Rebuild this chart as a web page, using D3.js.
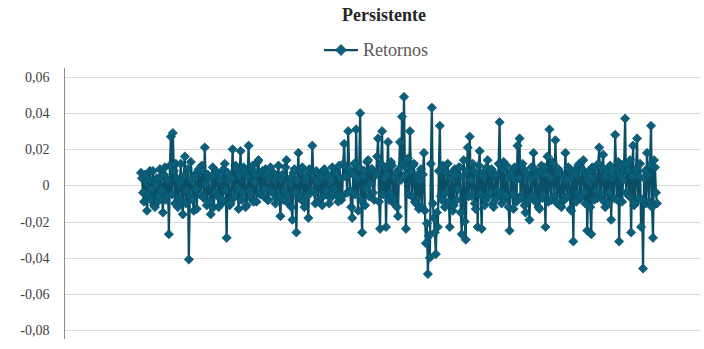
<!DOCTYPE html>
<html>
<head>
<meta charset="utf-8">
<script src="https://cdn.jsdelivr.net/npm/d3@7"></script>
<style>
  body { margin: 0; background: #fff; }
  text { font-family: "Liberation Serif", "DejaVu Serif", serif; }
</style>
</head>
<body>
<div id="chart"></div>
<script>
'use strict'

// chart text
const title = 'Persistente'
const seriesName = 'Retornos'

// y axis ticks
const yTicks = [0.06, 0.04, 0.02, 0, -0.02, -0.04, -0.06, -0.08]

// daily returns
const retornos = [
  0.007, 0.004, -0.004, -0.009, 0.006, 0.002, -0.014, -0.005, 0.003, 0.008, -0.008, -0.002, 0.008, -0.011, -0.012, 0.001, 0.004, -0.009, -0.006, 0.009,
  0.005, -0.003, -0.015, 0.006, 0.010, -0.008, -0.006, 0.003, -0.027, 0.011, 0.027, -0.005, 0.029, 0.008, -0.010, 0.012, 0.004, -0.012, -0.007, 0.002,
  0.012, -0.009, -0.016, 0.005, 0.016, -0.010, -0.003, 0.009, -0.041, -0.006, 0.013, 0.003, -0.008, -0.014, 0.006, -0.002, -0.013, 0.007, 0.009, -0.005,
  -0.005, 0.011, 0.008, -0.007, 0.021, 0.001, -0.011, 0.006, 0.004, -0.009, -0.016, 0.005, 0.010, -0.012, -0.004, 0.008, 0.007, -0.006, -0.012, 0.003,
  0.006, -0.010, -0.008, 0.009, 0.012, -0.003, -0.029, 0.007, 0.003, -0.011, -0.010, 0.004, 0.020, -0.007, -0.006, 0.011, 0.009, -0.002, -0.013, 0.006,
  0.019, -0.008, -0.004, 0.010, 0.008, -0.012, -0.011, 0.005, 0.022, -0.003, -0.007, 0.009, 0.011, -0.009, 0.002, 0.006, -0.009, 0.013, 0.014, -0.004,
  -0.005, 0.007, 0.008, -0.006, -0.002, 0.009, 0.006, -0.008, -0.008, 0.004, 0.010, -0.003, -0.004, 0.007, 0.003, -0.010, -0.007, 0.005, 0.011, -0.006,
  -0.017, 0.004, 0.006, -0.008, -0.003, 0.010, 0.014, -0.005, -0.010, 0.002, 0.004, -0.012, -0.019, 0.007, 0.009, -0.004, -0.026, 0.003, 0.018, -0.007,
  -0.006, 0.008, 0.010, -0.009, -0.012, 0.004, 0.005, -0.006, -0.018, 0.009, 0.007, -0.003, 0.022, 0.006, -0.004, -0.010, 0.008, 0.002, -0.009, 0.005,
  0.005, -0.007, -0.011, 0.008, 0.009, -0.005, -0.003, 0.004, 0.006, -0.010, -0.007, 0.003, 0.010, -0.004, -0.002, 0.008, 0.007, -0.006, -0.009, 0.011,
  0.004, -0.008, -0.006, 0.012, 0.023, 0.005, 0.010, -0.004, 0.030, 0.009, -0.003, -0.012, -0.018, 0.006, 0.012, -0.005, 0.031, 0.004, -0.014, 0.010,
  0.040, -0.008, -0.026, 0.005, 0.008, -0.011, -0.002, 0.013, 0.014, -0.006, 0.001, 0.009, 0.009, -0.004, -0.008, 0.007, 0.006, 0.016, 0.026, -0.009,
  -0.024, 0.012, 0.030, -0.005, 0.004, 0.010, -0.023, 0.006, 0.024, -0.008, -0.004, 0.013, 0.011, -0.007, -0.010, 0.005, 0.007, -0.012, -0.017, 0.009,
  0.024, 0.003, 0.038, 0.012, 0.049, 0.006, -0.024, 0.010, 0.015, -0.005, 0.030, 0.008, -0.006, 0.011, 0.012, -0.009, -0.010, 0.004, 0.006, -0.013,
  0.003, 0.009, -0.012, 0.006, 0.018, -0.014, -0.032, -0.021, -0.049, -0.028, -0.040, 0.012, 0.043, -0.010, -0.018, -0.026, -0.038, -0.015, -0.023, 0.008,
  0.033, -0.006, -0.008, 0.011, 0.010, -0.012, -0.004, 0.007, 0.012, -0.009, -0.023, 0.004, 0.007, -0.014, -0.011, 0.009, 0.006, -0.008, -0.002, 0.010,
  0.010, -0.015, -0.027, 0.005, 0.014, -0.020, -0.030, 0.008, 0.021, -0.006, 0.027, 0.003, -0.006, 0.012, 0.008, -0.010, -0.013, 0.006, -0.023, 0.011,
  0.019, -0.005, -0.024, 0.007, 0.005, -0.011, -0.008, 0.010, 0.014, -0.006, -0.004, 0.008, 0.009, -0.010, -0.012, 0.005, 0.006, -0.007, -0.003, 0.012,
  0.035, -0.004, -0.010, 0.009, 0.013, -0.008, -0.006, 0.011, 0.004, -0.012, -0.025, 0.006, 0.008, -0.005, -0.013, 0.010, 0.003, -0.009, 0.022, 0.004,
  0.026, -0.006, -0.007, 0.012, 0.009, -0.011, -0.015, 0.007, 0.005, -0.008, -0.019, 0.004, 0.010, -0.006, 0.018, 0.009, -0.009, 0.005, 0.006, -0.012,
  -0.013, 0.008, 0.011, -0.007, -0.005, 0.010, -0.023, 0.006, 0.016, -0.009, 0.031, 0.004, -0.008, 0.013, 0.012, -0.006, 0.025, 0.007, -0.010, 0.009,
  0.007, -0.011, -0.012, 0.006, 0.004, -0.008, 0.018, 0.003, -0.006, 0.010, 0.009, -0.013, -0.014, 0.005, -0.031, 0.008, 0.006, -0.009, -0.004, 0.011,
  0.012, -0.007, -0.006, 0.009, 0.014, -0.004, -0.010, 0.006, -0.025, 0.003, 0.008, -0.012, -0.027, 0.010, 0.004, -0.008, 0.010, -0.003, -0.007, 0.012,
  0.021, -0.006, -0.005, 0.010, 0.017, -0.009, -0.012, 0.005, 0.008, -0.010, -0.004, 0.011, -0.019, 0.004, 0.006, -0.007, 0.028, 0.009, -0.008, 0.013,
  -0.031, 0.006, 0.011, -0.009, 0.003, 0.012, 0.037, -0.004, 0.012, 0.008, -0.006, 0.014, -0.026, 0.005, 0.022, -0.011, -0.010, 0.009, 0.026, -0.007,
  0.005, 0.012, -0.023, -0.008, -0.046, 0.004, 0.008, -0.010, 0.018, 0.006, -0.009, 0.011, 0.033, -0.012, -0.029, 0.014, 0.010, -0.004, -0.010
]

const width = 704
const height = 349
const lineColor = '#0b4f66'
const markerFill = '#0a5f7b'

const svg = d3.select('#chart').append('svg')
  .attr('width', width)
  .attr('height', height)

const x = d3.scaleLinear()
  .domain([0, retornos.length - 1])
  .range([141, 657])

const y = d3.scaleLinear()
  .domain([-0.08, 0.06])
  .range([330, 77])

// Excel style diamond, a square turned 45 degrees
const diamond = (r) => 'M0,' + (-r) + 'L' + r + ',0L0,' + r + 'L' + (-r) + ',0Z'

const fmt = (d) => d === 0 ? '0' : d3.format('.2f')(d).replace('.', ',').replace('−', '-')

// gridlines
svg.append('g')
  .selectAll('line')
  .data(yTicks)
  .enter().append('line')
  .attr('x1', 64)
  .attr('x2', 700)
  .attr('y1', (d) => Math.round(y(d)) + 0.5)
  .attr('y2', (d) => Math.round(y(d)) + 0.5)
  .attr('stroke', '#d9d9d9')
  .attr('stroke-width', 1)

// y axis
const yAxis = d3.axisLeft(y)
  .tickValues(yTicks)
  .tickSize(0)
  .tickPadding(15)
  .tickFormat(fmt)

const gy = svg.append('g')
  .attr('transform', 'translate(64.5,0)')
  .call(yAxis)
  .attr('font-family', 'Liberation Serif')
  .attr('font-size', 14)
gy.select('.domain').remove()
gy.selectAll('text')
  .attr('fill', '#404040')

svg.append('line')
  .attr('x1', 64.5).attr('x2', 64.5)
  .attr('y1', y(0.065)).attr('y2', y(-0.085))
  .attr('stroke', '#898989')
  .attr('stroke-width', 1)

// series line
const line = d3.line()
  .x((d, i) => x(i))
  .y((d) => y(d))

svg.append('path')
  .datum(retornos)
  .attr('d', line)
  .attr('fill', 'none')
  .attr('stroke', lineColor)
  .attr('stroke-width', 2.25)
  .attr('stroke-linejoin', 'round')

svg.append('g')
  .selectAll('path')
  .data(retornos)
  .enter().append('path')
  .attr('d', diamond(4.6))
  .attr('transform', (d, i) => 'translate(' + x(i) + ',' + y(d) + ')')
  .attr('fill', markerFill)
  .attr('stroke', lineColor)
  .attr('stroke-width', 0.75)

// title
svg.append('text')
  .attr('x', 384)
  .attr('y', 21)
  .attr('text-anchor', 'middle')
  .style('font-size', '18px')
  .style('font-weight', 'bold')
  .attr('fill', '#262626')
  .text(title)

// legend
const legend = svg.append('g').attr('transform', 'translate(341,50)')
legend.append('line')
  .attr('x1', -17).attr('x2', 17)
  .attr('stroke', lineColor)
  .attr('stroke-width', 2.25)
legend.append('path')
  .attr('d', diamond(5.5))
  .attr('fill', markerFill)
  .attr('stroke', lineColor)
  .attr('stroke-width', 0.75)
legend.append('text')
  .attr('x', 22)
  .attr('y', 6)
  .style('font-size', '18px')
  .attr('fill', '#595959')
  .text(seriesName)
</script>
</body>
</html>
